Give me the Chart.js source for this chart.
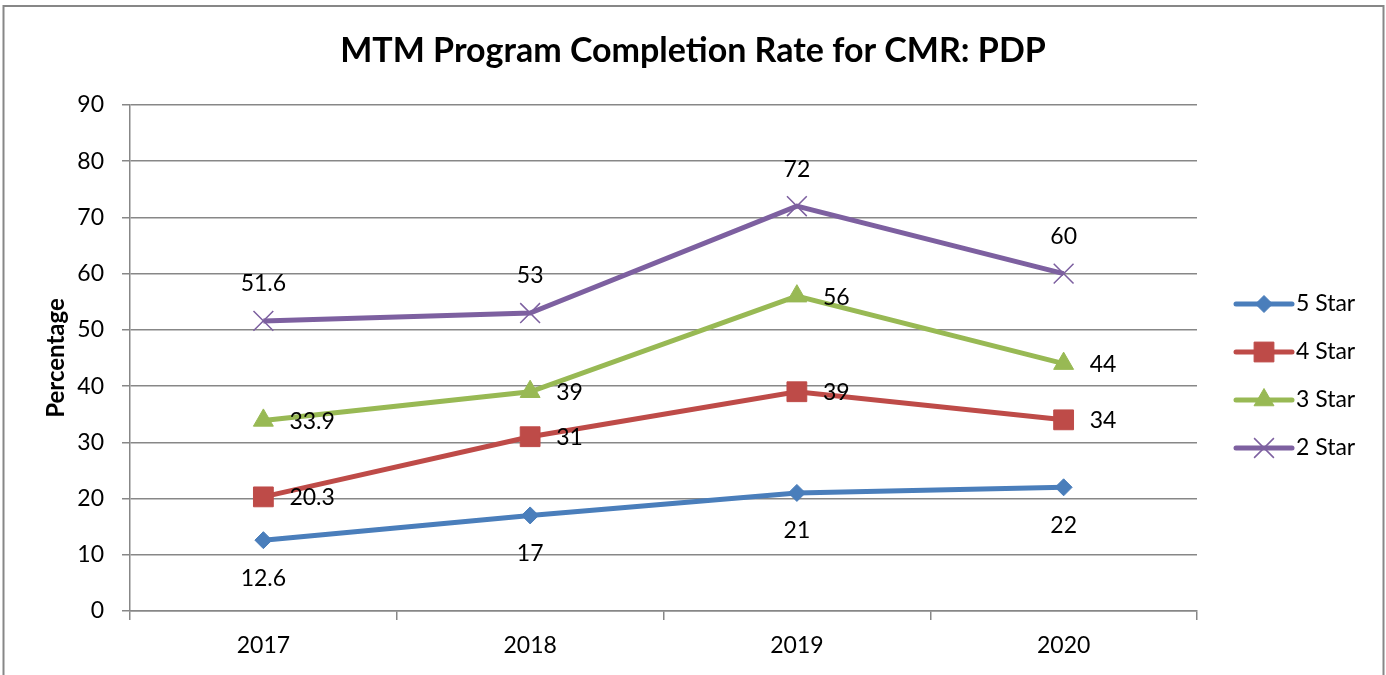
<!DOCTYPE html>
<html>
<head>
<meta charset="utf-8">
<title>MTM Program Completion Rate for CMR: PDP</title>
<script src="https://cdn.jsdelivr.net/npm/chart.js@4/dist/chart.umd.min.js"></script>
<style>
  html, body { margin: 0; padding: 0; background: #ffffff; overflow: hidden; }
  #wrap { position: relative; width: 1386px; height: 675px; }
</style>
</head>
<body>
<div id="wrap"><canvas id="chart"></canvas></div>
<script>
// Categories and series values
const years = ['2017', '2018', '2019', '2020'];
const seriesNames = ['5 Star', '4 Star', '3 Star', '2 Star'];
const fiveStar = [12.6, 17, 21, 22];
const fourStar = [20.3, 31, 39, 34];
const threeStar = [33.9, 39, 56, 44];
const twoStar = [51.6, 53, 72, 60];
// Value axis range
const yMin = 0;
const yMax = 90;
const yStep = 10;

const FONT = 'Lato, "Open Sans", "Liberation Sans", sans-serif';
const GRID = '#878787';

const seriesStyles = [
  { color: '#4A7EBB', pointStyle: 'rectRot', radius: 8.5, pointBorderWidth: 1, label: 'below' },
  { color: '#BE4B48', pointStyle: 'rect', radius: 14, pointBorderWidth: 1, label: 'right' },
  { color: '#98B954', pointStyle: 'triangle', radius: 11.5, pointBorderWidth: 1, label: 'right' },
  { color: '#7D60A0', pointStyle: 'crossRot', radius: 14, pointBorderWidth: 1.5, label: 'above' }
];
const seriesValues = [fiveStar, fourStar, threeStar, twoStar];

const datasets = seriesValues.map((vals, i) => ({
  label: seriesNames[i],
  data: vals,
  borderColor: seriesStyles[i].color,
  backgroundColor: seriesStyles[i].color,
  borderWidth: 5,
  tension: 0,
  pointStyle: seriesStyles[i].pointStyle,
  pointRadius: seriesStyles[i].radius,
  pointHoverRadius: seriesStyles[i].radius,
  pointBorderWidth: seriesStyles[i].pointBorderWidth,
  pointBackgroundColor: seriesStyles[i].color,
  pointBorderColor: seriesStyles[i].color,
  labelPos: seriesStyles[i].label,
  order: seriesValues.length - i
}));

// Outer frame around the whole chart
const framePlugin = {
  id: 'frame',
  beforeDraw(chart) {
    const ctx = chart.ctx;
    ctx.save();
    ctx.fillStyle = '#ffffff';
    ctx.fillRect(0, 0, chart.width, chart.height);
    ctx.strokeStyle = GRID;
    ctx.lineWidth = 2;
    ctx.strokeRect(3.5, 6, 1380, chart.height + 20);
    ctx.restore();
  }
};

// Centre the title across the full canvas width, legend area included
const titleSpanPlugin = {
  id: 'titleSpan',
  afterLayout(chart) {
    const t = chart.titleBlock;
    if (t) {
      t.left = 0;
      t.right = chart.width;
      t.width = chart.width;
    }
  }
};

// Value labels next to each point
const valueLabelPlugin = {
  id: 'valueLabels',
  afterDatasetsDraw(chart) {
    const ctx = chart.ctx;
    ctx.save();
    ctx.font = '23px ' + FONT;
    ctx.fillStyle = '#000000';
    chart.data.datasets.forEach((ds, di) => {
      const meta = chart.getDatasetMeta(di);
      meta.data.forEach((pt, i) => {
        const text = String(ds.data[i]);
        if (ds.labelPos === 'below') {
          ctx.textAlign = 'center'; ctx.textBaseline = 'middle';
          ctx.fillText(text, pt.x, pt.y + 38);
        } else if (ds.labelPos === 'above') {
          ctx.textAlign = 'center'; ctx.textBaseline = 'middle';
          ctx.fillText(text, pt.x, pt.y - 37);
        } else {
          ctx.textAlign = 'left'; ctx.textBaseline = 'middle';
          ctx.fillText(text, pt.x + 26, pt.y + 1);
        }
      });
    });
    ctx.restore();
  }
};

// Legend: line segment with the series marker, followed by the name
const legendPlugin = {
  id: 'lineLegend',
  afterDraw(chart) {
    const ctx = chart.ctx;
    const area = chart.chartArea;
    const x0 = area.right + 39;
    const lineLen = 56;
    const gap = 48;
    const firstY = 304;
    ctx.save();
    chart.data.datasets.forEach((ds, i) => {
      const y = firstY + i * gap;
      ctx.strokeStyle = ds.borderColor;
      ctx.lineWidth = ds.borderWidth;
      ctx.lineCap = 'round';
      ctx.beginPath();
      ctx.moveTo(x0, y);
      ctx.lineTo(x0 + lineLen, y);
      ctx.stroke();
      ctx.lineCap = 'butt';
      ctx.fillStyle = ds.pointBackgroundColor;
      ctx.strokeStyle = ds.pointBorderColor;
      ctx.lineWidth = ds.pointBorderWidth;
      Chart.helpers.drawPoint(ctx, {
        pointStyle: ds.pointStyle,
        radius: ds.pointRadius,
        rotation: 0,
        borderWidth: ds.pointBorderWidth
      }, x0 + lineLen / 2, y);
      ctx.fillStyle = '#000000';
      ctx.font = '23px ' + FONT;
      ctx.textAlign = 'left';
      ctx.textBaseline = 'middle';
      ctx.fillText(ds.label, x0 + lineLen + 4, y);
    });
    ctx.restore();
  }
};

new Chart(document.getElementById('chart'), {
  type: 'line',
  data: { labels: years, datasets },
  plugins: [framePlugin, titleSpanPlugin, valueLabelPlugin, legendPlugin],
  options: {
    responsive: true,
    maintainAspectRatio: false,
    animation: false,
    events: [],
    layout: { padding: { top: 10, left: 0, right: 189, bottom: 0 } },
    plugins: {
      legend: { display: false },
      tooltip: { enabled: false },
      title: {
        display: true,
        text: 'MTM Program Completion Rate for CMR: PDP',
        color: '#000000',
        font: { family: FONT, size: 34, weight: 'bold', lineHeight: 1.2 },
        padding: { top: 20.6, bottom: 33.6 }
      }
    },
    scales: {
      x: {
        type: 'category',
        offset: true,
        afterFit(scale) { scale.height = 64; },
        grid: {
          display: true,
          offset: true,
          drawOnChartArea: false,
          drawTicks: true,
          tickLength: 9,
          color: GRID,
          lineWidth: 1.5
        },
        border: { display: true, color: GRID, width: 1.5 },
        ticks: {
          color: '#000000',
          padding: 12,
          font: { family: FONT, size: 23 }
        }
      },
      y: {
        min: yMin,
        max: yMax,
        afterFit(scale) { scale.width = 130; },
        grid: {
          color: GRID,
          lineWidth: 1.5,
          drawTicks: true,
          tickLength: 8
        },
        border: { display: true, color: GRID, width: 1.5 },
        ticks: {
          stepSize: yStep,
          color: '#000000',
          padding: 18,
          font: { family: FONT, size: 23 }
        },
        title: {
          display: true,
          text: 'Percentage',
          color: '#000000',
          font: { family: FONT, size: 24, weight: 'bold', lineHeight: 1.2 },
          padding: { top: 42, bottom: 0 }
        }
      }
    }
  }
});
</script>
</body>
</html>
